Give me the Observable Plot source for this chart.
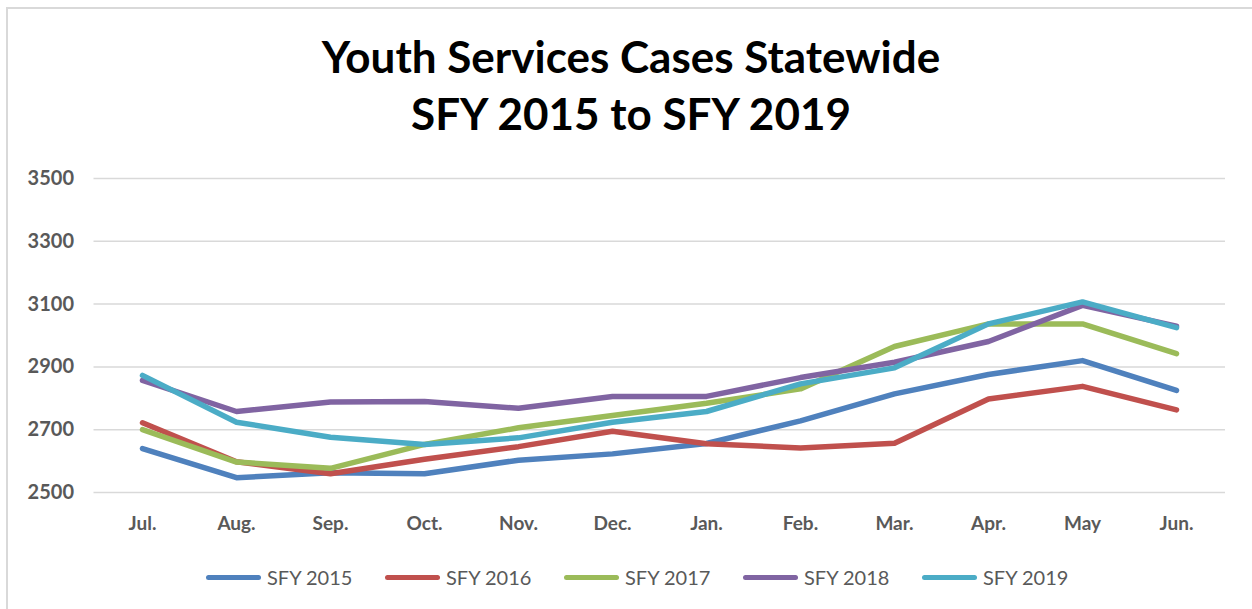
<!DOCTYPE html>
<html>
<head>
<meta charset="utf-8">
<script src="https://cdn.jsdelivr.net/npm/d3@7"></script>
<script src="https://cdn.jsdelivr.net/npm/@observablehq/plot@0.6"></script>
<style>
  html, body { margin: 0; padding: 0; background: #fff; }
  #wrap { position: relative; width: 1252px; height: 609px; overflow: hidden; background: #fff; }
  #frame { position: absolute; left: 6px; top: 7px; right: -10px; bottom: -10px; border: 2px solid #d9d9d9; }
  #title { position: absolute; left: 0; width: 1262px; top: 28px; text-align: center;
           font-family: Lato, "Open Sans", sans-serif; font-weight: 700; font-size: 44px; line-height: 57px; color: #000; }
  #chart { position: absolute; left: 0; top: 150px; }
  #legend { position: absolute; left: 206px; top: 564px; display: flex; font-family: Lato, sans-serif; font-size: 20px; color: #595959; }
  .item { width: 179px; display: flex; align-items: center; height: 26px; }
  .sw { width: 55px; height: 5px; border-radius: 3px; margin-right: 6px; }
</style>
</head>
<body>
<div id="wrap">
  <div id="frame"></div>
  <div id="title">Youth Services Cases Statewide<br>SFY 2015 to SFY 2019</div>
  <div id="chart"></div>
  <div id="legend"></div>
</div>
<script>
const months = ["Jul.","Aug.","Sep.","Oct.","Nov.","Dec.","Jan.","Feb.","Mar.","Apr.","May","Jun."];
const seriesNames = ["SFY 2015","SFY 2016","SFY 2017","SFY 2018","SFY 2019"];
const seriesColors = ["#4F81BD","#C0504D","#9BBB59","#8064A2","#4BACC6"];
const sfy2015 = [2640,2547,2563,2560,2603,2623,2656,2728,2814,2876,2920,2825];
const sfy2016 = [2722,2598,2560,2606,2646,2695,2655,2642,2657,2798,2838,2763];
const sfy2017 = [2700,2597,2577,2653,2706,2745,2784,2830,2965,3037,3037,2942];
const sfy2018 = [2857,2758,2788,2790,2768,2806,2806,2866,2915,2981,3096,3030];
const sfy2019 = [2873,2724,2676,2653,2674,2724,2758,2846,2897,3037,3107,3025];
const yTicks = [2500,2700,2900,3100,3300,3500];

const allSeries = [sfy2015, sfy2016, sfy2017, sfy2018, sfy2019];
const data = [];
allSeries.forEach((vals, si) => vals.forEach((v, i) => data.push({series: seriesNames[si], month: months[i], value: v})));

const chart = Plot.plot({
  width: 1252,
  height: 400,
  marginLeft: 93.5,
  marginRight: 27,
  marginTop: 28,
  marginBottom: 58,
  style: {fontFamily: "Lato, sans-serif", fontWeight: 700, fontSize: "19px", background: "transparent"},
  x: {type: "point", domain: months, padding: 0.5},
  y: {domain: [2500, 3500]},
  color: {domain: seriesNames, range: seriesColors},
  marks: [
    Plot.gridY(yTicks, {stroke: "#d9d9d9", strokeOpacity: 1, strokeWidth: 1.5}),
    Plot.lineY(data, {x: "month", y: "value", z: "series", stroke: "series", strokeWidth: 5.5, strokeLinecap: "round", strokeLinejoin: "round"}),
    Plot.axisX({tickSize: 0, tickPadding: 24, color: "#595959", fontWeight: 700, fontSize: 19, label: null}),
    Plot.axisY({ticks: yTicks, tickSize: 0, tickPadding: 20, color: "#595959", fontWeight: 700, fontSize: 20, label: null, tickFormat: d => String(d)})
  ]
});
document.getElementById("chart").appendChild(chart);

const legend = document.getElementById("legend");
seriesNames.forEach((name, i) => {
  const it = document.createElement("div");
  it.className = "item";
  const sw = document.createElement("div");
  sw.className = "sw";
  sw.style.background = seriesColors[i];
  const tx = document.createElement("span");
  tx.textContent = name;
  it.appendChild(sw);
  it.appendChild(tx);
  legend.appendChild(it);
});
</script>
</body>
</html>
